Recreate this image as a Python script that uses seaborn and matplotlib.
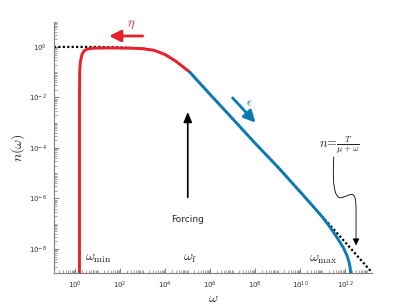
import numpy as np
import pandas as pd
import matplotlib
matplotlib.use("Agg")
import matplotlib.pyplot as plt
from matplotlib.path import Path
from matplotlib.patches import FancyArrowPatch
import seaborn as sns

# values, as log10(omega) and log10(n)
red_logw = [0.19, 0.19, 0.19, 0.20, 0.23, 0.30, 0.40, 0.55, 0.80, 1.50, 2.50,
            3.00, 3.50, 4.00, 4.50, 5.10]
red_logn = [-8.95, -4.0, -2.0, -1.0, -0.60, -0.30, -0.15, -0.08, -0.05, -0.04,
            -0.05, -0.07, -0.13, -0.30, -0.58, -1.00]

blue_logw = [5.10, 6.0, 7.0, 8.0, 9.04, 10.0, 10.59, 11.0, 11.33, 11.6, 11.93,
             12.10, 12.19, 12.23, 12.25, 12.25]
blue_logn = [-1.00, -1.88, -2.84, -3.81, -4.78, -5.73, -6.32, -6.74, -7.13,
             -7.48, -7.95, -8.28, -8.55, -8.75, -8.90, -8.95]

dot_logw = [-0.95, 1.0, 2.0, 3.0, 3.5, 4.0, 4.5, 5.1, 6.0, 7.0, 8.0, 9.04,
            10.0, 10.59, 12.0, 13.2]
dot_logn = [0.0, 0.0, -0.02, -0.06, -0.13, -0.30, -0.58, -1.00, -1.88, -2.84,
            -3.81, -4.78, -5.73, -6.32, -7.72, -8.93]

red = pd.DataFrame({"omega": np.power(10.0, red_logw), "n": np.power(10.0, red_logn)})
blue = pd.DataFrame({"omega": np.power(10.0, blue_logw), "n": np.power(10.0, blue_logn)})
dots = pd.DataFrame({"omega": np.power(10.0, dot_logw), "n": np.power(10.0, dot_logn)})

RED = "#e8212b"
BLUE = "#0b7bb3"
GREY = "#7f7f7f"

sns.set_style("ticks")
plt.rcParams["font.family"] = ["DejaVu Sans"]

fig = plt.figure(figsize=(4.11, 3.08), dpi=100)
ax = fig.add_axes([0.131, 0.1136, 0.774, 0.816])

sns.lineplot(data=dots, x="omega", y="n", sort=False, estimator=None, ax=ax,
             color="black", lw=1.6, zorder=2)
ax.lines[-1].set_dashes([1.0, 1.0])
sns.lineplot(data=red, x="omega", y="n", sort=False, estimator=None, ax=ax,
             color=RED, lw=2.1, zorder=3)
sns.lineplot(data=blue, x="omega", y="n", sort=False, estimator=None, ax=ax,
             color=BLUE, lw=2.1, zorder=3)

ax.set_xscale("log")
ax.set_yscale("log")
ax.set_xlim(10 ** -0.95, 10 ** 13.2)
ax.set_ylim(10 ** -8.95, 10 ** 1.0)

ticker = matplotlib.ticker
ax.xaxis.set_major_locator(ticker.FixedLocator([10.0 ** k for k in range(0, 13, 2)]))
ax.xaxis.set_minor_locator(ticker.LogLocator(base=10, subs=np.arange(1, 10), numticks=40))
ax.yaxis.set_major_locator(ticker.FixedLocator([10.0 ** k for k in range(-8, 1, 2)]))
ax.yaxis.set_minor_locator(ticker.LogLocator(base=10, subs=np.arange(1, 10), numticks=40))
ax.xaxis.set_major_formatter(ticker.LogFormatterSciNotation())
ax.yaxis.set_major_formatter(ticker.LogFormatterSciNotation())
ax.xaxis.set_minor_formatter(ticker.NullFormatter())
ax.yaxis.set_minor_formatter(ticker.NullFormatter())

sns.despine(ax=ax)
for s in ["left", "bottom"]:
    ax.spines[s].set_color(GREY)
    ax.spines[s].set_linewidth(0.8)
ax.tick_params(which="both", direction="in", color=GREY, labelsize=5, labelcolor="#333333", pad=5)
ax.tick_params(which="major", length=3.5, width=0.7)
ax.tick_params(which="minor", length=2, width=0.5)

ax.set_xlabel(r"$\omega$", fontsize=10, labelpad=0)
ax.set_ylabel(r"$n(\omega)$", fontsize=10, labelpad=1.5)
ax.xaxis.label.set_math_fontfamily("cm")
ax.yaxis.label.set_math_fontfamily("cm")

tr = ax.transAxes
ax.text(0.097, 0.06, r"$\omega_{\rm min}$", transform=tr, fontsize=10, math_fontfamily="cm",
        va="center", ha="left")
ax.text(0.405, 0.06, r"$\omega_{\rm f}$", transform=tr, fontsize=10, math_fontfamily="cm",
        va="center", ha="left")
ax.text(0.803, 0.055, r"$\omega_{\rm max}$", transform=tr, fontsize=10, math_fontfamily="cm",
        va="center", ha="left")
ax.text(0.242, 0.99, r"$\eta$", transform=tr, fontsize=9, math_fontfamily="cm",
        color=RED, va="center", ha="center")
ax.text(0.614, 0.676, r"$\epsilon$", transform=tr, fontsize=9, math_fontfamily="cm",
        color=BLUE, va="center", ha="center")
ax.text(0.421, 0.211, "Forcing", transform=tr, fontsize=6.5, va="center", ha="center")
ax.text(0.835, 0.51, r"$n\!=\!\frac{T}{\mu+\omega}$", transform=tr, fontsize=9,
        math_fontfamily="cm", va="center", ha="left")

ax.annotate("", xy=(0.165, 0.943), xytext=(0.288, 0.943), xycoords=tr, textcoords=tr,
            arrowprops=dict(arrowstyle="-|>,head_length=0.7,head_width=0.35", color=RED, lw=2))
ax.annotate("", xy=(0.640, 0.590), xytext=(0.556, 0.705), xycoords=tr, textcoords=tr,
            arrowprops=dict(arrowstyle="-|>,head_length=0.7,head_width=0.35", color=BLUE, lw=2))
ax.annotate("", xy=(0.421, 0.652), xytext=(0.421, 0.29), xycoords=tr, textcoords=tr,
            arrowprops=dict(arrowstyle="-|>,head_length=0.6,head_width=0.25", color="black", lw=1.2))

wiggle = Path([(0.880, 0.462), (0.876, 0.38), (0.878, 0.29), (0.905, 0.30),
               (0.935, 0.31), (0.950, 0.34), (0.950, 0.25), (0.950, 0.20), (0.950, 0.11)],
              [Path.MOVETO, Path.CURVE4, Path.CURVE4, Path.CURVE4,
               Path.CURVE4, Path.CURVE4, Path.CURVE4, Path.LINETO, Path.LINETO])
ax.add_patch(FancyArrowPatch(path=wiggle, transform=tr, arrowstyle="-|>,head_length=4,head_width=2",
                             color="black", lw=0.6, clip_on=False))

fig.savefig("out.png", dpi=100)
